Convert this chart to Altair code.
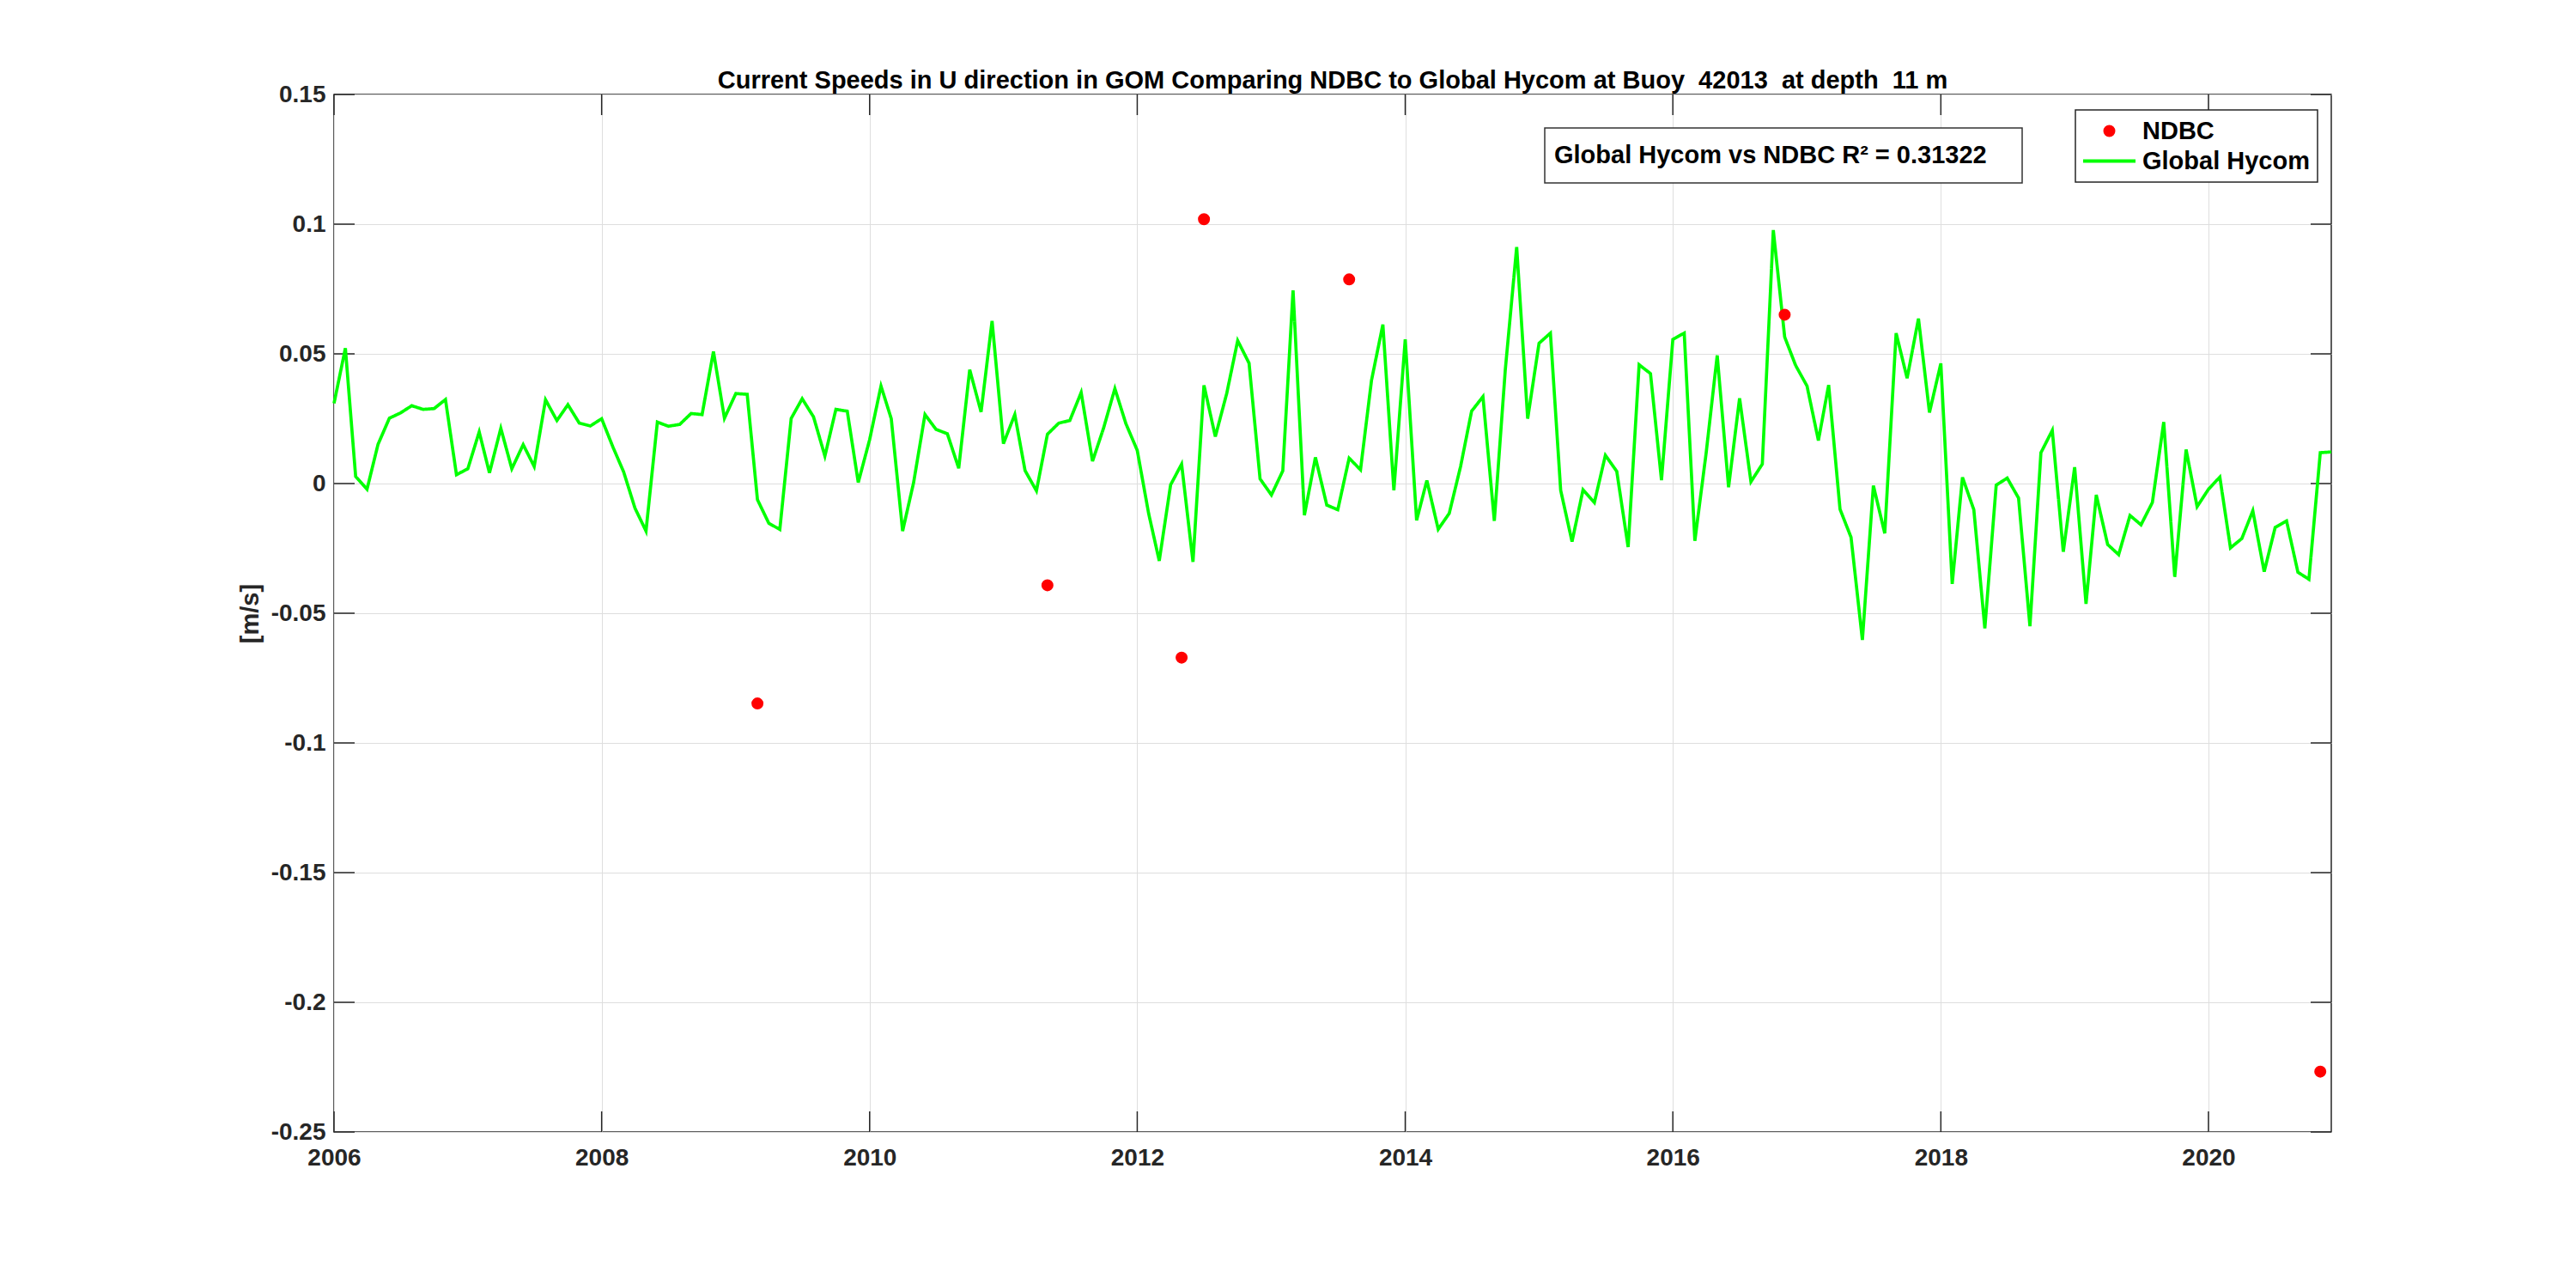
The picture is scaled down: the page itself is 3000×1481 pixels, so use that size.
import altair as alt
import pandas as pd

# ---------------- data ----------------
hycom_u = [
    0.0309, 0.0522, 0.0027, -0.0022, 0.0151, 0.0252, 0.0272, 0.0300, 0.0286, 0.0289, 0.0324, 0.0034,
    0.0057, 0.0199, 0.0041, 0.0213, 0.0057, 0.0150, 0.0066, 0.0323, 0.0243, 0.0304, 0.0233, 0.0222,
    0.0250, 0.0140, 0.0045, -0.0095, -0.0183, 0.0237, 0.0221, 0.0228, 0.0270, 0.0266, 0.0509, 0.0252,
    0.0347, 0.0344, -0.0062, -0.0153, -0.0177, 0.0251, 0.0327, 0.0257, 0.0106, 0.0286, 0.0279, 0.0004,
    0.0169, 0.0376, 0.0250, -0.0183, 0.0004, 0.0266, 0.0209, 0.0192, 0.0059, 0.0439, 0.0276, 0.0627,
    0.0154, 0.0266, 0.0050, -0.0028, 0.0190, 0.0233, 0.0243, 0.0351, 0.0086, 0.0213, 0.0366, 0.0231,
    0.0128, -0.0115, -0.0298, -0.0005, 0.0075, -0.0302, 0.0379, 0.0181, 0.0347, 0.0551, 0.0464, 0.0018,
    -0.0044, 0.0049, 0.0745, -0.0122, 0.0101, -0.0083, -0.0101, 0.0098, 0.0053, 0.0398, 0.0613, -0.0026,
    0.0556, -0.0142, 0.0012, -0.0176, -0.0115, 0.0066, 0.0279, 0.0335, -0.0144, 0.0440, 0.0912, 0.0250,
    0.0541, 0.0580, -0.0026, -0.0224, -0.0024, -0.0073, 0.0109, 0.0047, -0.0245, 0.0458, 0.0424, 0.0013,
    0.0556, 0.0580, -0.0221, 0.0120, 0.0494, -0.0014, 0.0329, 0.0007, 0.0075, 0.0977, 0.0565, 0.0455,
    0.0376, 0.0166, 0.0380, -0.0099, -0.0207, -0.0603, -0.0008, -0.0192, 0.0580, 0.0406, 0.0636, 0.0274,
    0.0463, -0.0387, 0.0024, -0.0101, -0.0558, -0.0006, 0.0021, -0.0056, -0.0550, 0.0119, 0.0205, -0.0263,
    0.0063, -0.0464, -0.0044, -0.0235, -0.0274, -0.0123, -0.0159, -0.0073, 0.0237, -0.0360, 0.0131, -0.0089,
    -0.0022, 0.0025, -0.0248, -0.0212, -0.0105, -0.0340, -0.0169, -0.0144, -0.0342, -0.0369, 0.0119, 0.0122,
]
ndbc_dates = ["2009-03-01", "2011-05-01", "2012-05-01", "2012-07-01", "2013-08-01", "2016-11-01", "2020-11-01"]
ndbc_u = [-0.0848, -0.0392, -0.0671, 0.1019, 0.0787, 0.0651, -0.2267]

y_ticks = [-0.25, -0.2, -0.15, -0.1, -0.05, 0, 0.05, 0.1, 0.15]
x_tick_years = [2006, 2008, 2010, 2012, 2014, 2016, 2018, 2020]
series_names = ["NDBC", "Global Hycom"]
series_colors = ["#ff0000", "#00ff00"]
r2_text = "Global Hycom vs NDBC R² = 0.31322"
title_text = "Current Speeds in U direction in GOM Comparing NDBC to Global Hycom at Buoy  42013  at depth  11 m"
y_title = "[m/s]"

# ---------------- tables ----------------
months = pd.date_range("2006-01-01", periods=len(hycom_u), freq="MS")
hycom_df = pd.DataFrame({"date": months.strftime("%Y-%m-%d"), "u": hycom_u, "fit": r2_text})
ndbc_df = pd.DataFrame({"date": ndbc_dates, "u": ndbc_u, "series": "NDBC"})
xt_df = pd.DataFrame({"date": [f"{y}-01-01" for y in x_tick_years]})
yt_df = pd.DataFrame({"u": y_ticks})

# ---------------- styling ----------------
FONT = "Liberation Sans"
W, H = 2326, 1208
TICK = 24
AX = "#262626"
GRID = "#dedede"
SYM = 729                       # 27 px symbol box, scale factor 13.5
DOT = "M-0.37,0A0.37,0.37 0 1,0 0.37,0A0.37,0.37 0 1,0 -0.37,0Z"
DASH = "M-2.26,0L2.26,0"

X_SCALE = alt.Scale(type="utc", domain=[alt.DateTime(year=2006, month=1, date=1, utc=True),
                                        alt.DateTime(year=2020, month=12, date=1, utc=True)])
Y_SCALE = alt.Scale(domain=[-0.25, 0.15], nice=False, zero=False)
C_SCALE = alt.Scale(domain=series_names, range=series_colors)
S_SCALE = alt.Scale(domain=series_names, range=[DOT, DASH])

x_axis = alt.Axis(values=[alt.DateTime(year=y, month=1, date=1, utc=True) for y in x_tick_years],
                  format="%Y", grid=True, gridColor=GRID, gridWidth=1, ticks=False, tickSize=0,
                  domain=False, labelFont=FONT, labelFontSize=28, labelFontWeight="bold",
                  labelColor=AX, labelPadding=16, labelFlush=False, labelOverlap=False, title=None)
y_axis = alt.Axis(values=y_ticks, labelExpr="'' + datum.value", grid=True, gridColor=GRID, gridWidth=1,
                  ticks=False, tickSize=0, domain=False, labelFont=FONT, labelFontSize=28,
                  labelFontWeight="bold", labelColor=AX, labelPadding=10, labelFlush=False,
                  labelOverlap=False, title=y_title, titleFont=FONT, titleFontSize=29,
                  titleFontWeight="bold", titleColor=AX, titlePadding=9)

series_legend = alt.Legend(
    title=None, orient="none", legendX=2028, legendY=18,
    labelFont=FONT, labelFontSize=29, labelFontWeight="bold", labelColor="black", labelLimit=1000,
    symbolSize=SYM, symbolStrokeWidth=4, symbolOpacity=1, symbolOffset=15, labelOffset=23,
    rowPadding=4, padding=9, strokeColor=AX, fillColor="white",
)
# trailing non-breaking spaces (kept from trimming by a zero-width char) widen the box on the right
pad_tail = "\u00a0" * 3 + "\u200b"
r2_legend = alt.Legend(
    title=None, orient="none", legendX=1410, legendY=39,
    labelFont=FONT, labelFontSize=29, labelFontWeight="bold", labelColor="black", labelLimit=2000,
    labelExpr="datum.label + '" + pad_tail + "'",
    symbolOpacity=0, symbolSize=0, symbolStrokeWidth=0, labelOffset={"expr": "-35"},
    padding=17, strokeColor="#333333", fillColor="white",
)

# ---------------- layers ----------------
X = lambda: alt.X("date:T", scale=X_SCALE, axis=x_axis)
Y = lambda: alt.Y("u:Q", scale=Y_SCALE, axis=y_axis)

tick_style = dict(color=AX, strokeWidth=1.5)
bottom_ticks = alt.Chart(xt_df).mark_rule(**tick_style).encode(
    x=X(), y=alt.value(H - TICK), y2=alt.value(H))
top_ticks = alt.Chart(xt_df).mark_rule(**tick_style).encode(
    x=X(), y=alt.value(0), y2=alt.value(TICK))
left_ticks = alt.Chart(yt_df).mark_rule(**tick_style).encode(
    y=Y(), x=alt.value(0), x2=alt.value(TICK))
right_ticks = alt.Chart(yt_df).mark_rule(**tick_style).encode(
    y=Y(), x=alt.value(W - TICK), x2=alt.value(W))

line = alt.Chart(hycom_df).mark_line(color="#00ff00", strokeWidth=3.7).encode(
    x=X(), y=Y(),
    strokeDash=alt.StrokeDash("fit:N", scale=alt.Scale(domain=[r2_text], range=[[1, 0]]), legend=r2_legend),
)
points = alt.Chart(ndbc_df).mark_point(filled=True, size=SYM, opacity=1, strokeWidth=4).encode(
    x=X(), y=Y(),
    color=alt.Color("series:N", scale=C_SCALE, legend=series_legend),
    stroke=alt.Stroke("series:N", scale=C_SCALE, legend=series_legend),
    shape=alt.Shape("series:N", scale=S_SCALE, legend=series_legend),
)

# keep the double spaces of the original title visible in SVG
title_shown = title_text.replace("  ", " \u00a0")

chart = alt.layer(bottom_ticks, top_ticks, left_ticks, right_ticks, line, points).properties(
    width=W, height=H,
    title=alt.TitleParams(text=title_shown, font=FONT, fontSize=29, fontWeight="bold", color="black",
                          anchor="middle", frame="group", baseline="alphabetic", offset=-36),
    padding={"left": 381, "top": 102, "right": 250, "bottom": 140},
    autosize=alt.AutoSizeParams(type="none"),
    background="white",
).configure_view(stroke=AX, strokeWidth=1.5).configure_legend(strokeWidth=1.5)

chart.save("out.html", embed_options={"renderer": "svg", "actions": False})
